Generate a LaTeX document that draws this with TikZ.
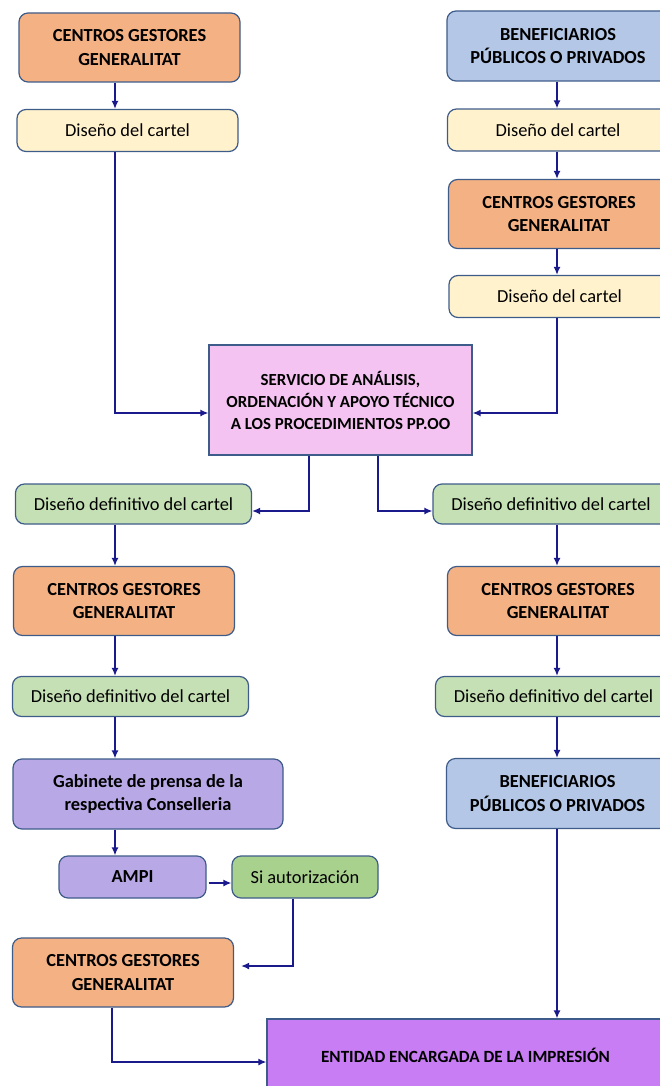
\documentclass[tikz,border=0pt]{standalone}
\usepackage{fontspec}
\setmainfont{Carlito}
\usepackage{tikz}
\usetikzlibrary{arrows.meta, positioning}

\definecolor{edge}{HTML}{3E5C8A}
\definecolor{flow}{HTML}{1A1A8C}
\definecolor{cgfill}{HTML}{F4B183}
\definecolor{dfill}{HTML}{FFF2CC}
\definecolor{bpfill}{HTML}{B4C7E7}
\definecolor{ddfill}{HTML}{C5E0B4}
\definecolor{gbfill}{HTML}{B9A8E6}
\definecolor{sifill}{HTML}{A9D18E}
\definecolor{svfill}{HTML}{F5C3F1}
\definecolor{enfill}{HTML}{C97DF4}

\begin{document}
\begin{tikzpicture}[x=1pt, y=-1pt,
  box/.style={draw=edge, line width=1.2pt, rounded corners=9pt, align=center, inner sep=0pt, text=black},
  gestor/.style={box, fill=cgfill, minimum width=221pt, minimum height=69pt, font=\fontsize{18.4}{23.5}\selectfont\bfseries},
  benef/.style={box, fill=bpfill, minimum width=222pt, minimum height=70pt, font=\fontsize{18.4}{23.5}\selectfont\bfseries},
  cartel/.style={box, fill=dfill, minimum width=221pt, minimum height=42pt, font=\fontsize{18.4}{23.5}\selectfont},
  defin/.style={box, fill=ddfill, minimum width=236pt, minimum height=40pt, font=\fontsize{18.4}{23.5}\selectfont},
  gabinete/.style={box, fill=gbfill, minimum width=270pt, minimum height=70pt, font=\fontsize{18.4}{23.5}\selectfont\bfseries},
  ampi/.style={box, fill=gbfill, minimum width=147pt, minimum height=42pt, font=\fontsize{18.4}{23.5}\selectfont\bfseries},
  autor/.style={box, fill=sifill, minimum width=146pt, minimum height=42pt, font=\fontsize{18.4}{23.5}\selectfont},
  servicio/.style={draw=edge, line width=1.2pt, fill=svfill, align=center, inner sep=0pt, minimum width=263pt, minimum height=110pt, font=\fontsize{16.9}{22}\selectfont\bfseries},
  entidad/.style={draw=edge, line width=1.2pt, fill=enfill, align=center, inner sep=0pt, minimum width=397pt, minimum height=72pt, font=\fontsize{17.1}{22}\selectfont\bfseries},
  arr/.style={draw=flow, line width=1.5pt, -{Latex[length=8pt,width=7pt]}}
]
\useasboundingbox (0,0) rectangle (660,1086);

\coordinate (colL) at (115,0);
\coordinate (colR) at (557,0);

% left column, top
\node [gestor] (CG1) at (129.5,47.5) {CENTROS GESTORES\\GENERALITAT};
\node [cartel] (D1L) at (127.5,130.5) {Diseño del cartel};

% right column, top
\node [benef] (BP1) at (558,46) {BENEFICIARIOS\\PÚBLICOS O PRIVADOS};
\node [cartel] (D1R) at (558,130) {Diseño del cartel};
\node [gestor] (CG2) at (559,214) {CENTROS GESTORES\\GENERALITAT};
\node [cartel] (D2R) at (559.5,296.5) {Diseño del cartel};

\node [servicio] (SV) at (340.5,400) {SERVICIO DE ANÁLISIS,\\ORDENACIÓN Y APOYO TÉCNICO\\A LOS PROCEDIMIENTOS PP.OO};

% left column, bottom
\node [defin] (DL1) at (133.5,504) {Diseño definitivo del cartel};
\node [gestor] (CG3L) at (124,601) {CENTROS GESTORES\\GENERALITAT};
\node [defin] (DL2) at (130.5,696.5) {Diseño definitivo del cartel};
\node [gabinete] (GB) at (148,794) {Gabinete de prensa de la\\respectiva Conselleria};
\node [ampi] (AMPI) at (132.5,877) {AMPI};
\node [autor] (SI) at (305,877) {Si autorización};
\node [gestor] (CG4) at (123,972.5) {CENTROS GESTORES\\GENERALITAT};

% right column, bottom
\node [defin] (DR1) at (551,504) {Diseño definitivo del cartel};
\node [gestor] (CG3R) at (558,601) {CENTROS GESTORES\\GENERALITAT};
\node [defin] (DR2) at (553.5,696.5) {Diseño definitivo del cartel};
\node [benef] (BP2) at (557.5,793.5) {BENEFICIARIOS\\PÚBLICOS O PRIVADOS};

\node [entidad] (ENT) at (465.5,1055) {ENTIDAD ENCARGADA DE LA IMPRESIÓN};

\foreach \s/\t in {CG1/D1L,
                   DL1/CG3L,
                   CG3L/DL2,
                   DL2/GB,
                   GB/AMPI}
    \draw [arr] (\s.south -| colL) -- (\t.north -| colL);

\foreach \s/\t in {BP1/D1R,
                   D1R/CG2,
                   CG2/D2R,
                   DR1/CG3R,
                   CG3R/DR2,
                   DR2/BP2,
                   BP2/ENT}
    \draw [arr] (\s.south -| colR) -- (\t.north -| colR);

\draw [arr] (D1L.south -| colL) |- ([yshift=-13pt]SV.west);
\draw [arr] (D2R.south -| colR) |- ([yshift=-13pt]SV.east);
\draw [arr] ([xshift=-31.5pt]SV.south) |- ([yshift=-7pt]DL1.east);
\draw [arr] ([xshift=37.5pt]SV.south) |- ([yshift=-7pt]DR1.west);
\draw [arr, shorten <=2pt] ([yshift=-6pt]AMPI.east) -- ([yshift=-6pt]SI.west);
\draw [arr] ([xshift=-12pt]SI.south) |- ([xshift=7pt,yshift=6.5pt]CG4.east);
\draw [arr] ([xshift=-11pt]CG4.south) |- ([yshift=-7pt]ENT.west);

\end{tikzpicture}
\end{document}
